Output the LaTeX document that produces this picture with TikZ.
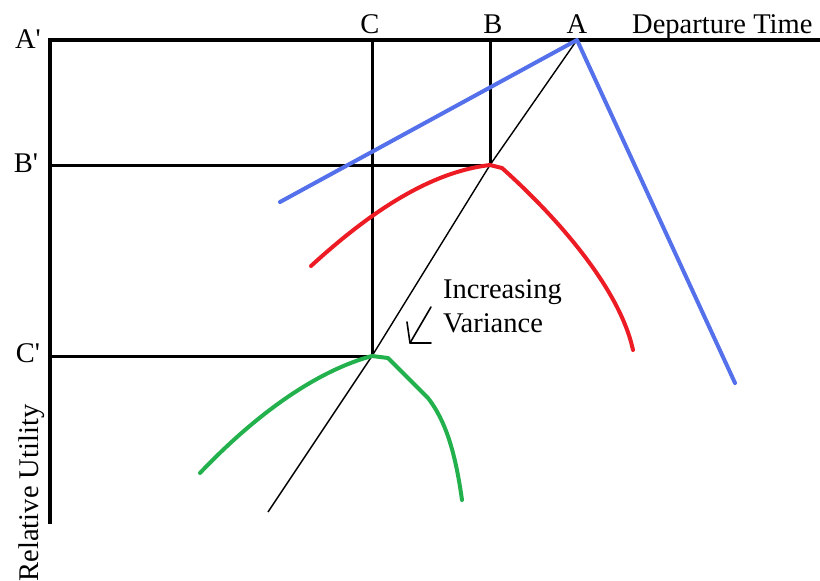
\documentclass[tikz,border=0pt]{standalone}
\usepackage{fontspec}
\setmainfont{LiberationSerif}[Extension=.ttf,UprightFont=*-Regular,BoldFont=*-Bold]
\definecolor{pblue}{RGB}{84,112,235}
\definecolor{pred}{RGB}{237,28,36}
\definecolor{pgreen}{RGB}{34,177,76}
\begin{document}
\begin{tikzpicture}[x=1pt,y=-1pt,
  axis/.style={line width=4.5pt},
  grid/.style={line width=3pt},
  thin/.style={line width=1.4pt},
  curve/.style={line width=4pt,line cap=round,line join=round},
  lbl/.style={font=\fontsize{28.5}{32}\selectfont,inner sep=0pt,anchor=base}]
\useasboundingbox (0,0) rectangle (820,581);
% key points
\coordinate (O) at (50,40);
\coordinate (E) at (820,40);
\coordinate (Ybot) at (50,524);
\coordinate (A) at (577,40);
\coordinate (Btop) at (490,40);
\coordinate (Ctop) at (372,40);
\coordinate (Bpk) at (490,165);
\coordinate (Cpk) at (372,356);
\coordinate (Bl) at (50,165);
\coordinate (Cl) at (50,356);
\coordinate (Dend) at (268,512);
\coordinate (BlueL) at (280,202);
\coordinate (BlueR) at (735,383);
% axes and guides
\draw[axis] (E) -- (O) -- (Ybot);
\draw[grid] (Ctop) -- (Cpk);
\draw[grid] (Btop) -- (Bpk);
\draw[grid] (Bl) -- (Bpk);
\draw[grid] (Cl) -- (Cpk);
% diagonal
\draw[thin] (A) -- (Bpk) -- (Cpk) -- (Dend);
% blue
\draw[curve,pblue] (BlueL) -- (A) -- (BlueR);
% red
\draw[curve,pred] (311,266) .. controls (370,212) and (430,172) .. (Bpk)
  -- (502,168) .. controls (560,220) and (620,290) .. (633,350);
% green
\draw[curve,pgreen] (200,473) .. controls (260,410) and (320,370) .. (Cpk)
  -- (388,358) -- (428,398) .. controls (445,420) and (455,450) .. (462,500);
% hand arrow
\coordinate (arA) at (431,307);
\coordinate (arB) at (410,343);
\coordinate (arC) at (407,322);
\coordinate (arD) at (431,343);
\draw[line width=1.6pt,line cap=round,line join=round] (arA) -- (arB);
\draw[line width=1.6pt,line cap=round,line join=round] (arC) -- (arB) -- (arD);
% labels
\node[lbl] (lA) at (577,33) {A};
\node[lbl] (lB) at (493,33) {B};
\node[lbl] (lC) at (370,33) {C};
\node[lbl,anchor=base west] (lDep) at (632,33) {Departure Time};
\node[lbl] (lAp) at (28,48) {A\textquotesingle};
\node[lbl] (lBp) at (26,172) {B\textquotesingle};
\node[lbl] (lCp) at (28,362) {C\textquotesingle};
\node[lbl,anchor=base west] (lInc) at (443,298) {Increasing};
\node[lbl,anchor=base west] (lVar) at (443,332) {Variance};
\node[lbl,rotate=90] (lRU) at (38,493) {Relative Utility};
\end{tikzpicture}
\end{document}
